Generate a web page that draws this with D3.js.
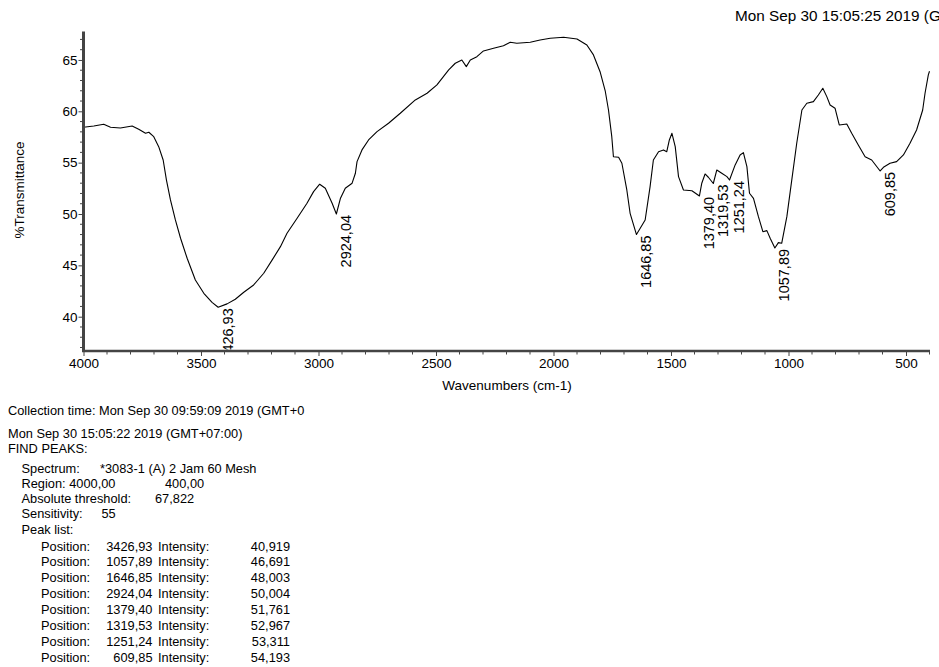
<!DOCTYPE html>
<html>
<head>
<meta charset="utf-8">
<script src="https://cdn.jsdelivr.net/npm/d3@7"></script>
<style>
  body { margin: 0; background: #fff; }
  svg { display: block; font-family: "Liberation Sans", Arial, sans-serif; }
</style>
</head>
<body>
<div id="chart"></div>
<script>
/* === FT-IR spectrum with peak report === */

// spectrum (wavenumber cm-1, %T)
const wavenumber = [4000, 3956, 3914, 3885, 3843, 3793, 3765, 3736, 3722, 3701, 3680, 3661, 3647, 3630, 3609, 3587, 3559, 3524, 3488, 3453,
  3427, 3389, 3354, 3318, 3276, 3233, 3197, 3162, 3134, 3091, 3049, 3021, 2995, 2971, 2942, 2924, 2907, 2886, 2857, 2843,
  2836, 2815, 2787, 2751, 2702, 2652, 2588, 2538, 2496, 2446, 2418, 2390, 2371, 2354, 2326, 2298, 2255, 2213, 2184, 2156,
  2099, 2057, 2014, 1957, 1900, 1858, 1830, 1801, 1780, 1766, 1752, 1745, 1723, 1709, 1688, 1674, 1647, 1631, 1610, 1589,
  1575, 1553, 1532, 1518, 1507, 1496, 1482, 1468, 1447, 1411, 1379, 1369, 1355, 1341, 1320, 1305, 1284, 1262, 1251, 1227,
  1206, 1192, 1177, 1166, 1149, 1128, 1109, 1092, 1078, 1058, 1043, 1029, 1007, 986, 965, 943, 922, 894, 873, 854,
  837, 823, 802, 784, 752, 731, 703, 674, 646, 610, 596, 568, 540, 511, 483, 455, 429, 419, 405, 400];
const transmittance = [58.45, 58.57, 58.74, 58.45, 58.38, 58.57, 58.25, 57.86, 57.96, 57.53, 56.56, 55.26, 53.3, 51.37, 49.42, 47.64, 45.69, 43.58, 42.28, 41.4,
  40.92, 41.25, 41.7, 42.38, 43.09, 44.23, 45.53, 46.82, 48.13, 49.59, 51.05, 52.18, 52.9, 52.51, 51.05, 50.0, 51.5, 52.51, 53.0, 53.97,
  55.1, 56.24, 57.21, 58.02, 58.84, 59.81, 61.11, 61.76, 62.57, 64.03, 64.68, 65.0, 64.35, 65.0, 65.32, 65.88, 66.14, 66.39, 66.72, 66.62,
  66.72, 66.95, 67.11, 67.21, 67.04, 66.46, 65.49, 63.8, 62.0, 60.13, 57.53, 55.58, 55.52, 54.94, 52.34, 50.07, 48.0, 48.61, 49.42, 52.66,
  55.26, 56.07, 56.24, 56.07, 57.21, 57.86, 56.56, 53.64, 52.34, 52.27, 51.76, 53.0, 53.9, 53.58, 52.97, 54.29, 53.97, 53.64, 53.31, 54.78,
  55.75, 55.98, 54.61, 52.02, 51.53, 49.74, 48.28, 48.38, 47.64, 46.69, 47.21, 47.15, 49.74, 53.32, 56.89, 60.13, 60.78, 60.94, 61.59, 62.24,
  61.43, 60.62, 60.3, 58.67, 58.77, 57.86, 56.72, 55.58, 55.26, 54.19, 54.55, 54.94, 55.1, 55.75, 56.89, 58.18, 60.13, 61.76, 63.54, 63.9];

// peaks found
const peakPos = [3426.93, 2924.04, 1646.85, 1379.40, 1319.53, 1251.24, 1057.89, 609.85];
const peakInt = [40.919, 50.004, 48.003, 51.761, 52.967, 53.311, 46.691, 54.193];

// axes
const xMajorTicks = [4000, 3500, 3000, 2500, 2000, 1500, 1000, 500];
const yMajorTicks = [40, 45, 50, 55, 60, 65];
const xTitle = "Wavenumbers (cm-1)";
const yTitle = "%Transmittance";

// report text
const headerStamp = "Mon Sep 30 15:05:25 2019 (GMT+07:00)";
const collectionLine = "Collection time: Mon Sep 30 09:59:09 2019 (GMT+0";
const reportStamp = "Mon Sep 30 15:05:22 2019 (GMT+07:00)";
const reportTitle = "FIND PEAKS:";
const paramLabels = ["Spectrum:", "Region: 4000,00", "Absolute threshold:", "Sensitivity:", "Peak list:"];
const paramValues = ["*3083-1 (A) 2 Jam 60 Mesh", "400,00", "67,822", "55", ""];

const W = 939, H = 667;
const svg = d3.select("#chart").append("svg").attr("width", W).attr("height", H);
svg.append("rect").attr("width", W).attr("height", H).attr("fill", "#fff");

const x = d3.scaleLinear().domain([4000, 400]).range([83.5, 929.5]);
const y = d3.scaleLinear().domain([36.66, 67.82]).range([351, 31]);

const axisColor = "#444";

// clip so the labels stop at the axis
svg.append("defs").append("clipPath").attr("id", "plot-clip")
  .append("rect").attr("x", 84).attr("y", 0).attr("width", 850).attr("height", 349.5);

// spectrum
const pts = wavenumber.map((w, i) => [w, transmittance[i]]);
const line = d3.line().x(d => x(d[0])).y(d => y(d[1]));
svg.append("path")
  .datum(pts)
  .attr("d", line)
  .attr("fill", "none")
  .attr("stroke", "#000")
  .attr("stroke-width", 1.1)
  .attr("stroke-linejoin", "round");

// peak labels, rotated
const peaks = peakPos.map((p, i) => ({ pos: p, int: peakInt[i] }));
const fmtComma = (v, n) => v.toFixed(n).replace(".", ",");
svg.append("g").attr("clip-path", "url(#plot-clip)")
  .selectAll("text")
  .data(peaks)
  .join("text")
    .attr("transform", d => `translate(${x(d.pos) + 14.5},${y(d.int) + 1}) rotate(-90)`)
    .attr("text-anchor", "end")
    .style("font-size", "14.5px")
    .text(d => fmtComma(d.pos, 2));

// x axis
const xAxis = d3.axisBottom(x).tickValues(xMajorTicks).tickSize(5).tickPadding(2).tickFormat(d3.format("d"));
const gx = svg.append("g").attr("transform", "translate(0,351)").call(xAxis);
gx.select(".domain").remove();
gx.selectAll(".tick line").attr("stroke", axisColor);
gx.selectAll(".tick text").attr("fill", "#000").style("font-size", "13.5px").style("font-family", "inherit");
const xMinor = d3.range(3900, 399, -100).filter(v => v % 500 !== 0);
svg.append("g").selectAll("line").data(xMinor).join("line")
  .attr("x1", d => x(d)).attr("x2", d => x(d))
  .attr("y1", 351).attr("y2", 354.5)
  .attr("stroke", axisColor);
svg.append("line")
  .attr("x1", 82).attr("x2", 930).attr("y1", 351).attr("y2", 351)
  .attr("stroke", axisColor).attr("stroke-width", 2.6);

// y axis
const yAxis = d3.axisLeft(y).tickValues(yMajorTicks).tickSize(5).tickPadding(1);
const gy = svg.append("g").attr("transform", "translate(83.5,0)").call(yAxis);
gy.select(".domain").remove();
gy.selectAll(".tick line").attr("stroke", axisColor);
gy.selectAll(".tick text").attr("fill", "#000").style("font-size", "13.5px").style("font-family", "inherit");
const yMinor = d3.range(37, 68, 1).filter(v => v % 5 !== 0);
svg.append("g").selectAll("line").data(yMinor).join("line")
  .attr("x1", 80).attr("x2", 83.5)
  .attr("y1", d => y(d)).attr("y2", d => y(d))
  .attr("stroke", axisColor);
svg.append("line")
  .attr("x1", 83.5).attr("x2", 83.5).attr("y1", 31.5).attr("y2", 352)
  .attr("stroke", axisColor).attr("stroke-width", 3);

// titles
svg.append("text")
  .attr("x", 507).attr("y", 390)
  .attr("text-anchor", "middle")
  .style("font-size", "13.5px")
  .text(xTitle);
svg.append("text")
  .attr("transform", "translate(24,190) rotate(-90)")
  .attr("text-anchor", "middle")
  .style("font-size", "13.5px")
  .text(yTitle);

// time stamp, runs off the right edge as in the print
svg.append("text")
  .attr("x", 735).attr("y", 20.5)
  .style("font-size", "15.3px")
  .text(headerStamp);

// --- report block ---
const rep = svg.append("g").style("font-size", "12.8px");
rep.append("text").attr("x", 8).attr("y", 414.5).text(collectionLine);
rep.append("text").attr("x", 8).attr("y", 437.5).text(reportStamp);
rep.append("text").attr("x", 8).attr("y", 452.5).text(reportTitle);

const paramX = [100, 165, 155, 101.5, 0];
paramLabels.forEach((lab, i) => {
  const yy = 472.5 + i * 15.3;
  rep.append("text").attr("x", 21.5).attr("y", yy).text(lab);
  if (paramValues[i]) rep.append("text").attr("x", paramX[i]).attr("y", yy).text(paramValues[i]);
});

const sortedPeaks = peaks.slice().sort((a, b) => a.int - b.int);
sortedPeaks.forEach((p, i) => {
  const yy = 550.5 + i * 15.9;
  rep.append("text").attr("x", 41).attr("y", yy).text("Position:");
  rep.append("text").attr("x", 152.5).attr("y", yy).attr("text-anchor", "end").text(fmtComma(p.pos, 2));
  rep.append("text").attr("x", 158).attr("y", yy).text("Intensity:");
  rep.append("text").attr("x", 290).attr("y", yy).attr("text-anchor", "end").text(fmtComma(p.int, 3));
});
</script>
</body>
</html>
